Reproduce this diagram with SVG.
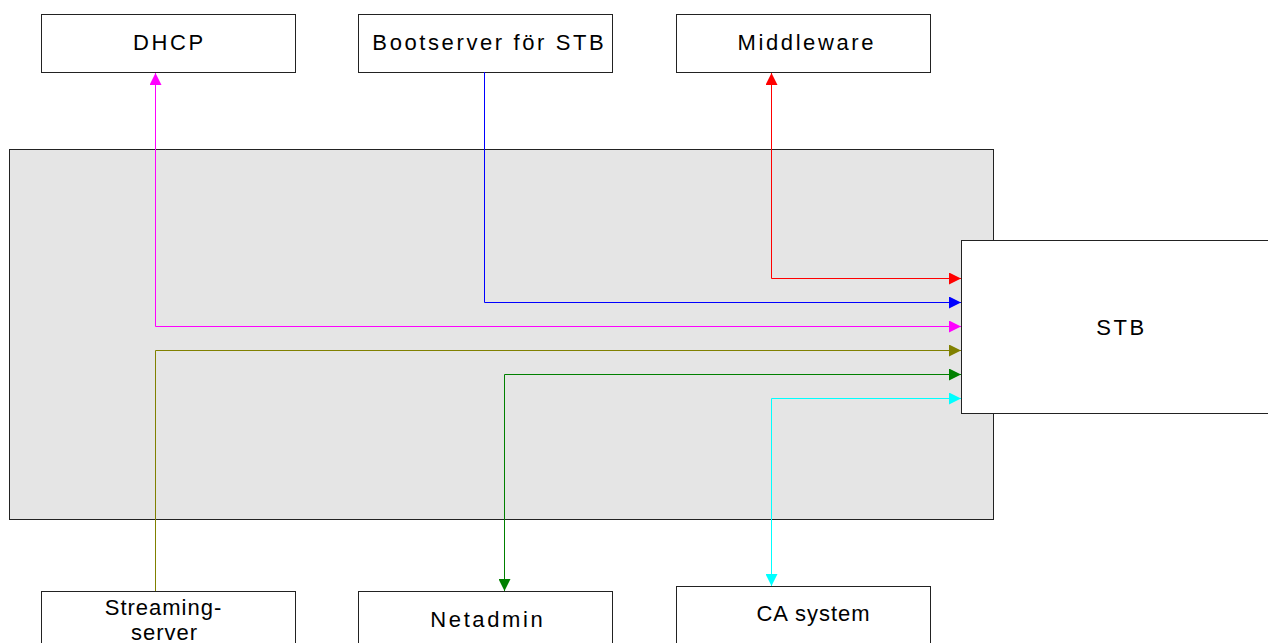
<svg xmlns="http://www.w3.org/2000/svg" width="1268" height="643" viewBox="0 0 1268 643">
<style>
.box{fill:#fff;stroke:#222;stroke-width:1}
.lbl{font-family:"Liberation Sans",Arial,sans-serif;font-size:22px;fill:#000;text-anchor:middle;letter-spacing:2.6px}
.tight{letter-spacing:1px}
.c{fill:none;stroke-width:1}
</style>
<defs>
<marker id="aR" viewBox="0 0 12 12" refX="12" refY="6" markerWidth="12" markerHeight="12" markerUnits="userSpaceOnUse" orient="auto"><path d="M0,0L12,6L0,12Z" fill="#ff0000"/></marker>
<marker id="aB" viewBox="0 0 12 12" refX="12" refY="6" markerWidth="12" markerHeight="12" markerUnits="userSpaceOnUse" orient="auto"><path d="M0,0L12,6L0,12Z" fill="#0000ff"/></marker>
<marker id="aM" viewBox="0 0 12 12" refX="12" refY="6" markerWidth="12" markerHeight="12" markerUnits="userSpaceOnUse" orient="auto"><path d="M0,0L12,6L0,12Z" fill="#ff00ff"/></marker>
<marker id="aO" viewBox="0 0 12 12" refX="12" refY="6" markerWidth="12" markerHeight="12" markerUnits="userSpaceOnUse" orient="auto"><path d="M0,0L12,6L0,12Z" fill="#808000"/></marker>
<marker id="aG" viewBox="0 0 12 12" refX="12" refY="6" markerWidth="12" markerHeight="12" markerUnits="userSpaceOnUse" orient="auto"><path d="M0,0L12,6L0,12Z" fill="#008000"/></marker>
<marker id="aC" viewBox="0 0 12 12" refX="12" refY="6" markerWidth="12" markerHeight="12" markerUnits="userSpaceOnUse" orient="auto"><path d="M0,0L12,6L0,12Z" fill="#00ffff"/></marker>
</defs>
<rect width="1268" height="643" fill="#fff"/>
<g id="area"><rect x="9.5" y="149.5" width="984" height="370" fill="#e5e5e5" stroke="#222" stroke-width="1"/></g>
<g id="stb"><rect class="box" x="961.5" y="240.5" width="310" height="173"/><text class="lbl" x="1121.5" y="335">STB</text></g>
<g id="dhcp"><rect class="box" x="41.5" y="14.5" width="254" height="58"/><text class="lbl" x="169.3" y="50">DHCP</text></g>
<g id="bootserver"><rect class="box" x="358.5" y="14.5" width="254" height="58"/><text class="lbl" x="489.3" y="50">Bootserver för STB</text></g>
<g id="middleware"><rect class="box" x="676.5" y="14.5" width="254" height="58"/><text class="lbl" x="806.8" y="50">Middleware</text></g>
<g id="streaming"><rect class="box" x="41.5" y="591.5" width="254" height="60"/><text class="lbl tight" x="163.5" y="615">Streaming-</text><text class="lbl tight" x="164.5" y="640">server</text></g>
<g id="netadmin"><rect class="box" x="358.5" y="591.5" width="254" height="60"/><text class="lbl" x="487.8" y="627">Netadmin</text></g>
<g id="casystem"><rect class="box" x="676.5" y="586.5" width="254" height="65"/><text class="lbl tight" x="813.5" y="621">CA system</text></g>
<g id="connectors">
<path class="c" stroke="#ff0000" d="M771.5,278.5V73" marker-end="url(#aR)"/>
<path class="c" stroke="#ff0000" d="M771.5,278.5H961" marker-end="url(#aR)"/>
<path class="c" stroke="#0000ff" d="M484.5,72V302.5H961" marker-end="url(#aB)"/>
<path class="c" stroke="#ff00ff" d="M155.5,326.5V73" marker-end="url(#aM)"/>
<path class="c" stroke="#ff00ff" d="M155.5,326.5H961" marker-end="url(#aM)"/>
<path class="c" stroke="#808000" d="M155.5,591V350.5H961" marker-end="url(#aO)"/>
<path class="c" stroke="#008000" d="M504.5,374.5V591" marker-end="url(#aG)"/>
<path class="c" stroke="#008000" d="M504.5,374.5H961" marker-end="url(#aG)"/>
<path class="c" stroke="#00ffff" d="M771.5,398.5V586" marker-end="url(#aC)"/>
<path class="c" stroke="#00ffff" d="M771.5,398.5H961" marker-end="url(#aC)"/>
</g>
</svg>
